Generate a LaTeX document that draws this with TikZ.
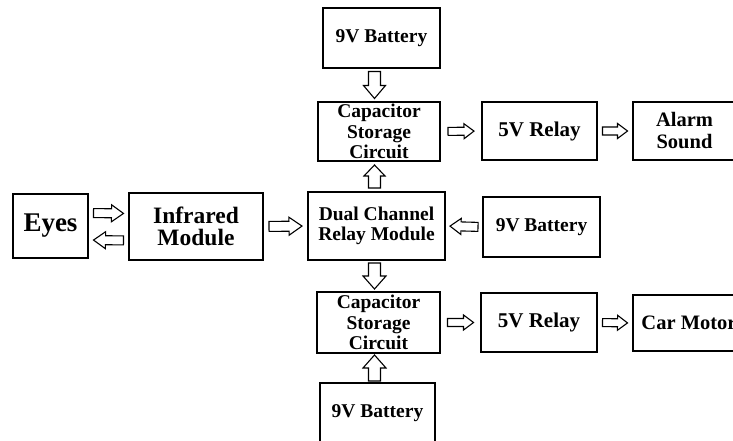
\documentclass[tikz,border=0pt]{standalone}
\usepackage{fontspec}
\setmainfont{Liberation Serif}
\begin{document}
\begin{tikzpicture}[x=1pt,y=1pt,
  box/.style={draw, line width=1.6pt, inner sep=0pt, align=center,
    font=\bfseries\fontsize{19.5}{20.5}\selectfont},
  bigtxt/.style={font=\bfseries\fontsize{#1}{22}\selectfont},
  pics/barrow/.style n args={4}{code={
    \draw[line width=1.1pt, fill=white, line join=miter]
      ({-#1/2},{#3/2}) -- ({#1/2-#4},{#3/2}) -- ({#1/2-#4},{#2/2}) -- ({#1/2},0)
      -- ({#1/2-#4},{-#2/2}) -- ({#1/2-#4},{-#3/2}) -- ({-#1/2},{-#3/2}) -- cycle;}},
  ha/.style={pos=0.5, sloped, allow upside down}]
\useasboundingbox (0,0) rectangle (733,-441);
\clip (0,0) rectangle (733,-441);
% boxes
\node[box, minimum width=117pt, minimum height=60pt] (bat1) at (381.5,-38) {9V Battery};
\node[box, minimum width=122pt, minimum height=59pt] (cap1) at (379,-131.5) {Capacitor\\Storage\\Circuit};
\node[box, minimum width=115pt, minimum height=58pt, bigtxt=21] (rel1) at (539.5,-131) {5V Relay};
\node[box, minimum width=103pt, minimum height=58pt, bigtxt=20.5] (alarm) at (684.5,-131) {Alarm\\Sound};
\node[box, minimum width=137pt, minimum height=68pt] (dcrm) at (376.5,-226) {Dual Channel\\Relay Module};
\node[box, minimum width=117pt, minimum height=60pt] (bat2) at (541.5,-227) {9V Battery};
\node[box, minimum width=75pt, minimum height=64pt, bigtxt=27] (eyes) at (50.5,-226) {Eyes};
\node[box, minimum width=134pt, minimum height=67pt, bigtxt=23.5] (ir) at (196,-226.5) {Infrared\\Module};
\node[box, minimum width=123pt, minimum height=61pt] (cap2) at (378.5,-322.5) {Capacitor\\Storage\\Circuit};
\node[box, minimum width=116pt, minimum height=59pt, bigtxt=21] (rel2) at (539,-322.5) {5V Relay};
\node[box, minimum width=112pt, minimum height=56pt, bigtxt=20.5] (motor) at (689,-323) {Car Motor};
\node[box, minimum width=115pt, minimum height=60pt] (bat3) at (377.5,-413) {9V Battery};
\coordinate (ax) at (374.5,0);
% horizontal arrows
\path ([yshift=13pt]eyes.east) -- ([yshift=13pt]ir.west) pic[ha]{barrow={30}{17}{9}{12}};
\path ([yshift=-14pt]ir.west) -- ([yshift=-14pt]eyes.east) pic[ha]{barrow={30}{17}{9}{12}};
\path (ir.east) -- (dcrm.west) pic[ha]{barrow={33}{18}{10}{13}};
\path (bat2.west) -- (dcrm.east) pic[ha]{barrow={28}{16}{9}{11}};
\path (cap1.east) -- (rel1.west) pic[ha]{barrow={26}{15}{8}{10}};
\path (rel1.east) -- (alarm.west) pic[ha]{barrow={25}{15}{8}{10}};
\path (cap2.east) -- (rel2.west) pic[ha]{barrow={26}{15}{8}{10}};
\path (rel2.east) -- (motor.west) pic[ha]{barrow={25}{15}{8}{10}};
% vertical arrows
\path (bat1.south -| ax) -- (cap1.north -| ax) pic[ha]{barrow={27}{22}{12}{13}};
\path (dcrm.north -| ax) -- (cap1.south -| ax) pic[ha]{barrow={23}{21}{12}{11}};
\path (dcrm.south -| ax) -- (cap2.north -| ax) pic[ha]{barrow={26}{23}{12}{13}};
\path (bat3.north -| ax) -- (cap2.south -| ax) pic[ha]{barrow={26}{23}{12}{13}};
\end{tikzpicture}
\end{document}
